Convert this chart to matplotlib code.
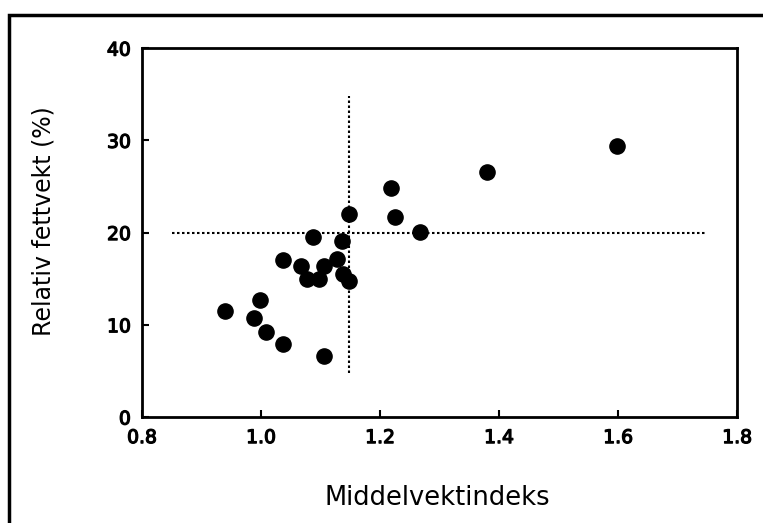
import matplotlib
matplotlib.use("Agg")
import matplotlib.pyplot as plt
import matplotlib.patheffects as pe
from matplotlib.patches import Rectangle

# middelvektindeks vs relativ fettvekt (%)
index_values = [0.94, 0.998, 0.988, 1.008, 1.037, 1.106, 1.037, 1.068, 1.077, 1.097,
                1.088, 1.106, 1.127, 1.137, 1.138, 1.148, 1.148, 1.218, 1.226, 1.268,
                1.379, 1.599]
fat_values = [11.5, 12.7, 10.7, 9.2, 7.9, 6.6, 17.0, 16.4, 15.0, 15.0,
              19.5, 16.4, 17.1, 19.1, 15.5, 14.8, 22.0, 24.8, 21.7, 20.05,
              26.6, 29.4]

# reference lines
hline_y = 20
hline_x = [0.85, 1.75]
vline_x = 1.148
vline_y = [4.8, 34.8]

x_ticks = [0.8, 1.0, 1.2, 1.4, 1.6, 1.8]
y_ticks = [0, 10, 20, 30, 40]

plt.rcParams['font.family'] = ['DejaVu Sans']

fig = plt.figure(figsize=(7.63, 5.23), dpi=100)
ax = fig.add_axes([0.186, 0.2027, 0.78, 0.7053])

ax.plot(hline_x, [hline_y, hline_y], color='black', linestyle=(0, (1.2, 1.2)), linewidth=1.5)
ax.plot([vline_x, vline_x], vline_y, color='black', linestyle=(0, (1.2, 1.2)), linewidth=1.5)
ax.scatter(index_values, fat_values, s=120, color='black', zorder=3)

ax.set_xlim(0.8, 1.8)
ax.set_ylim(0, 40)
ax.set_xticks(x_ticks)
ax.set_xticklabels([f"{v:.1f}" for v in x_ticks])
ax.set_yticks(y_ticks)
ax.tick_params(direction='in', length=5, width=1.5, labelsize=13.5, pad=8)
for lab in ax.get_xticklabels() + ax.get_yticklabels():
    lab.set_path_effects([pe.withStroke(linewidth=0.9, foreground='black')])
for sp in ax.spines.values():
    sp.set_linewidth(2)

# axis titles placed in figure pixels to match the scan
fig.text(437.5 / 763, 1 - 505 / 523, "Middelvektindeks", fontsize=18.5,
         ha='center', va='baseline')
fig.text(44 / 763, 1 - 221 / 523, "Relativ fettvekt (%)", fontsize=17,
         rotation=90, ha='center', va='center')

# outer frame, cut off at right and bottom
frame = Rectangle((9 / 763, -0.1), 1.2, 1 - 15 / 523 + 0.1, transform=fig.transFigure,
                  fill=False, edgecolor='black', linewidth=2.5, clip_on=False)
fig.patches.append(frame)

fig.savefig("out.png", dpi=100)
